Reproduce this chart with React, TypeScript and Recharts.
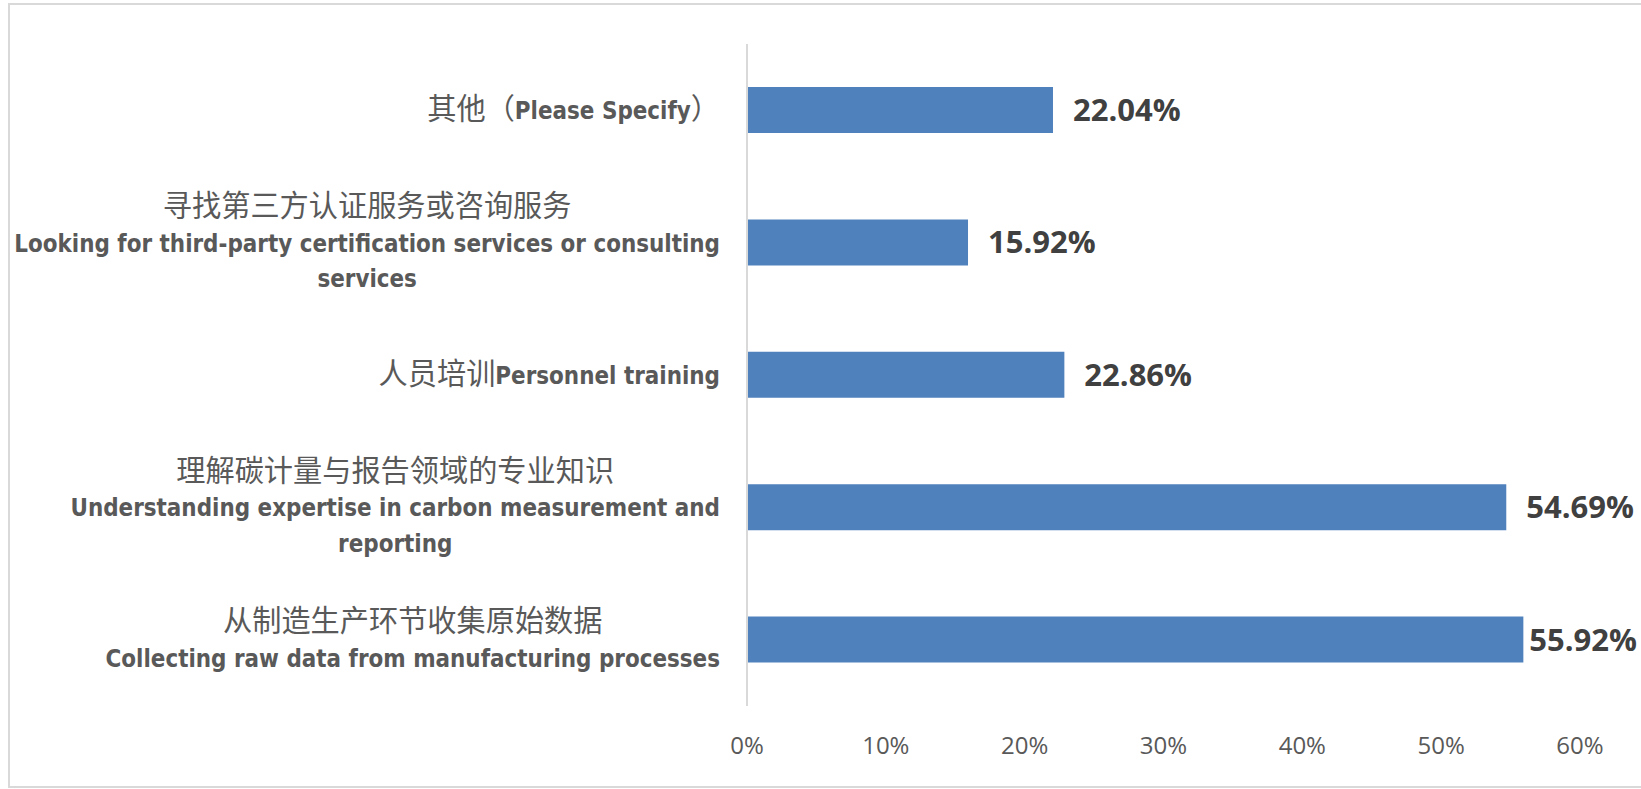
import React from 'react';
import { BarChart, Bar, XAxis, YAxis, LabelList } from 'recharts';

const categories = [
  '其他（Please Specify）',
  '寻找第三方认证服务或咨询服务\nLooking for third-party certification services or consulting\nservices',
  '人员培训Personnel training',
  '理解碳计量与报告领域的专业知识\nUnderstanding expertise in carbon measurement and\nreporting',
  '从制造生产环节收集原始数据\nCollecting raw data from manufacturing processes',
];
const shares = [0.2204, 0.1592, 0.2286, 0.5469, 0.5592];
const xTicks = [0, 0.1, 0.2, 0.3, 0.4, 0.5, 0.6];

const data = categories.map((name, i) => ({ name, value: shares[i] }));

const W = 1641;
const H = 789;
const LATIN = "'Liberation Sans Narrow', 'DejaVu Sans Condensed', 'Open Sans', sans-serif";
const CJK = "'Noto Sans CJK SC', sans-serif";
const CJK_SIZE = 29.2;
const VALUE_FONT = "'Open Sans', sans-serif";
const VALUE_SIZE = 31;
const CJK_RE = /[\u3000-\u303f\u4e00-\u9fff\uff00-\uffef]/;

type Run = { text: string; cjk: boolean };

function runs(line: string): Run[] {
  const out: Run[] = [];
  for (const ch of line) {
    const cjk = CJK_RE.test(ch);
    const last = out[out.length - 1];
    if (last && last.cjk === cjk) last.text += ch;
    else out.push({ text: ch, cjk });
  }
  return out;
}

let ctx: CanvasRenderingContext2D | null = null;
function getCtx() {
  if (!ctx) ctx = document.createElement('canvas').getContext('2d');
  return ctx!;
}

function measureLine(line: string, latinSize: number) {
  const c = getCtx();
  let w = 0;
  for (const r of runs(line)) {
    c.font = r.cjk ? `400 ${CJK_SIZE}px ${CJK}` : `700 ${latinSize}px ${LATIN}`;
    w += c.measureText(r.text).width;
  }
  return w;
}

function measureValue(text: string) {
  const c = getCtx();
  c.font = `700 ${VALUE_SIZE}px ${VALUE_FONT}`;
  return c.measureText(text).width;
}

// shrink latin size if the narrow fonts are missing, so the longest line still fits
function fitLatinSize() {
  const base = 28;
  const widest = Math.max(...categories.flatMap((c) => c.split('\n')).map((l) => measureLine(l, base)));
  return widest > 706 ? (base * 706) / widest : base;
}

function CategoryTick(props: any) {
  const { x, y, payload, latinSize } = props;
  const lines = String(payload.value).split('\n');
  const maxW = Math.max(...lines.map((l) => measureLine(l, latinSize)));
  const right = Number(x) - 19;
  const cx = right - maxW / 2;
  const lh = 35.5;
  const y0 = Number(y) - ((lines.length - 1) * lh) / 2;
  return (
    <g>
      {lines.map((l, i) => (
        <text
          key={i}
          x={cx}
          y={y0 + i * lh}
          dy={9}
          textAnchor="middle"
          fill="#595959"
          fontFamily={LATIN}
          fontSize={latinSize}
        >
          {runs(l).map((r, j) => (
            <tspan
              key={j}
              fontFamily={r.cjk ? CJK : LATIN}
              fontWeight={r.cjk ? 400 : 700}
              fontSize={r.cjk ? CJK_SIZE : latinSize}
            >
              {r.text}
            </tspan>
          ))}
        </text>
      ))}
    </g>
  );
}

function ValueLabel(props: any) {
  const x = Number(props.x);
  const y = Number(props.y);
  const width = Number(props.width);
  const height = Number(props.height);
  const text = `${(Number(props.value) * 100).toFixed(2)}%`;
  const tw = measureValue(text);
  const lx = Math.min(x + width + 20, W - 4 - tw);
  return (
    <text x={lx} y={y + height / 2} dy={11} fill="#404040" fontFamily={VALUE_FONT} fontWeight={700} fontSize={VALUE_SIZE}>
      {text}
    </text>
  );
}

export default function App() {
  const latinSize = React.useMemo(() => fitLatinSize(), []);
  return (
    <div style={{ position: 'relative', width: W, height: H, overflow: 'hidden', background: '#fff' }}>
      <style>{'body{margin:0}'}</style>
      <div
        style={{
          position: 'absolute',
          left: 8,
          top: 3,
          width: W,
          height: 785,
          boxSizing: 'border-box',
          border: '2px solid #d9d9d9',
        }}
      />
      <div style={{ position: 'absolute', left: 0, top: 0 }}>
        <BarChart width={W} height={H} data={data} layout="vertical" margin={{ top: 44, right: 61, bottom: 0, left: 0 }}>
          <XAxis
            type="number"
            domain={[0, 0.6]}
            ticks={xTicks}
            tickFormatter={(v: number) => `${Math.round(v * 100)}%`}
            axisLine={false}
            tickLine={false}
            tickMargin={25}
            height={83}
            tick={{ fill: '#595959', fontSize: 24, fontFamily: "'Open Sans', sans-serif" }}
          />
          <YAxis
            type="category"
            dataKey="name"
            width={747}
            interval={0}
            tickLine={false}
            axisLine={{ stroke: '#d9d9d9', strokeWidth: 2 }}
            tick={(p: any) => <CategoryTick {...p} latinSize={latinSize} />}
          />
          <Bar dataKey="value" fill="#4f81bd" barSize={46} isAnimationActive={false}>
            <LabelList dataKey="value" content={(p: any) => <ValueLabel {...p} />} />
          </Bar>
        </BarChart>
      </div>
    </div>
  );
}
